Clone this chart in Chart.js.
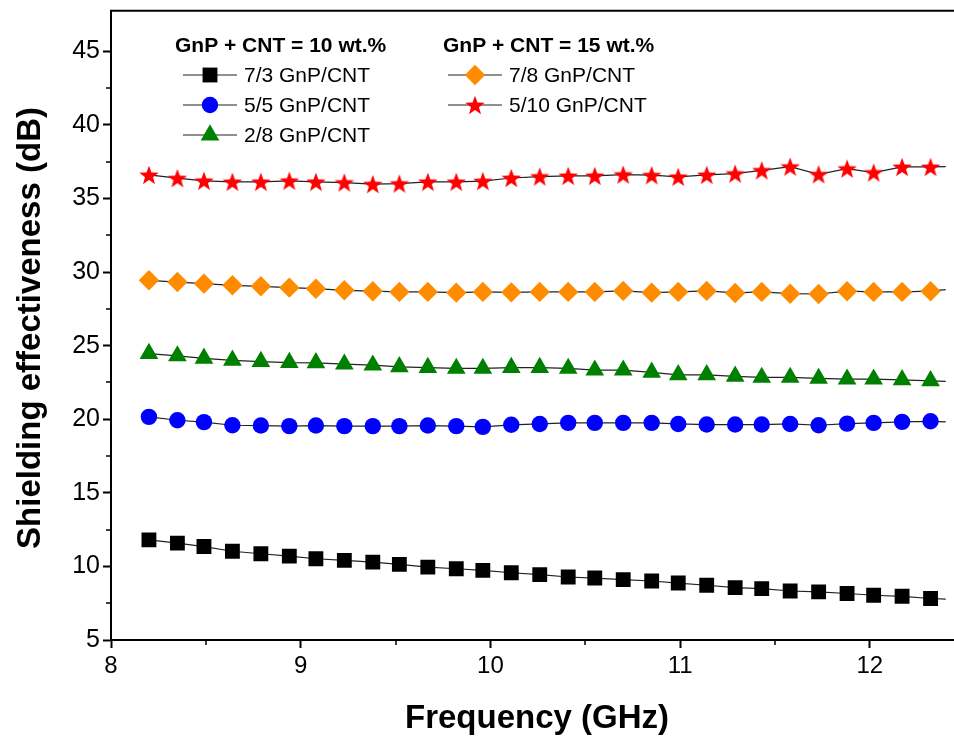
<!DOCTYPE html>
<html><head><meta charset="utf-8">
<script src="https://cdn.jsdelivr.net/npm/chart.js@4.4.1/dist/chart.umd.min.js"></script>
<style>
html,body{margin:0;padding:0;background:#fff;overflow:hidden;width:954px;height:742px}
#wrap{position:relative;width:1000px;height:742px}
</style>
</head><body><div id="wrap"><canvas id="c" width="1000" height="742"></canvas></div>
<script>
// ---- data ----
const frequency = [8.20, 8.35, 8.49, 8.64, 8.79, 8.94, 9.08, 9.23, 9.38, 9.52, 9.67, 9.82, 9.96, 10.11, 10.26,
  10.41, 10.55, 10.70, 10.85, 10.99, 11.14, 11.29, 11.43, 11.58, 11.73, 11.88, 12.02, 12.17, 12.32, 12.40];
const markerCount = 29; // last frequency point is the end of the trace, no marker

const se73 = [11.80, 11.58, 11.35, 11.03, 10.86, 10.70, 10.52, 10.41, 10.29, 10.14, 9.95, 9.84, 9.73, 9.57, 9.44,
  9.28, 9.21, 9.10, 9.01, 8.87, 8.72, 8.56, 8.49, 8.33, 8.27, 8.16, 8.04, 7.97, 7.82, 7.78];
const se55 = [20.16, 19.93, 19.80, 19.59, 19.57, 19.53, 19.57, 19.53, 19.53, 19.53, 19.57, 19.53, 19.48, 19.62, 19.68,
  19.75, 19.75, 19.75, 19.75, 19.68, 19.64, 19.64, 19.64, 19.68, 19.59, 19.70, 19.75, 19.82, 19.86, 19.82];
const se28 = [24.46, 24.30, 24.14, 24.00, 23.92, 23.85, 23.83, 23.74, 23.67, 23.56, 23.51, 23.45, 23.45, 23.51, 23.51,
  23.45, 23.33, 23.33, 23.18, 23.02, 23.02, 22.91, 22.84, 22.84, 22.77, 22.72, 22.72, 22.68, 22.61, 22.57];
const se78 = [29.44, 29.32, 29.21, 29.10, 29.03, 28.94, 28.87, 28.76, 28.70, 28.65, 28.65, 28.60, 28.65, 28.62, 28.65,
  28.65, 28.65, 28.72, 28.60, 28.65, 28.72, 28.58, 28.65, 28.53, 28.51, 28.70, 28.65, 28.65, 28.70, 28.80];
const se510 = [36.60, 36.38, 36.20, 36.13, 36.13, 36.20, 36.13, 36.08, 35.97, 36.01, 36.13, 36.13, 36.18, 36.39, 36.49,
  36.53, 36.53, 36.62, 36.58, 36.47, 36.60, 36.69, 36.91, 37.16, 36.64, 37.03, 36.76, 37.14, 37.14, 37.16];

const seriesNames = ['7/3 GnP/CNT', '5/5 GnP/CNT', '2/8 GnP/CNT', '7/8 GnP/CNT', '5/10 GnP/CNT'];
const legendHeaders = ['GnP + CNT = 10 wt.%', 'GnP + CNT = 15 wt.%'];
const xTickValues = [8, 9, 10, 11, 12];
const xTickLabels = ['8', '9', '10', '11', '12'];
const xMinorTicks = [8.5, 9.5, 10.5, 11.5];
const yTickValues = [5, 10, 15, 20, 25, 30, 35, 40, 45];
const yTickLabels = ['5', '10', '15', '20', '25', '30', '35', '40', '45'];
const yMinorTicks = [7.5, 12.5, 17.5, 22.5, 27.5, 32.5, 37.5, 42.5];
const xTitle = 'Frequency (GHz)';
const yTitle = 'Shielding effectiveness (dB)';

// ---- styles ----
const FONT = "'Liberation Sans', Arial, Helvetica, sans-serif";
function makeStar(size, outerR, innerR, color) {
  const c = document.createElement('canvas');
  c.width = size; c.height = size;
  const g = c.getContext('2d');
  g.fillStyle = color;
  g.beginPath();
  for (let i = 0; i < 10; i++) {
    const r = i % 2 === 0 ? outerR : innerR;
    const a = -Math.PI / 2 + i * Math.PI / 5;
    const px = size / 2 + r * Math.cos(a), py = size / 2 + r * Math.sin(a) + 0.9;
    if (i === 0) g.moveTo(px, py); else g.lineTo(px, py);
  }
  g.closePath(); g.fill();
  return c;
}
const starImg = makeStar(24, 10.2, 4.2, '#ff0000');

const styles = [
  {style: 'rect', r: 10.5, color: '#000000'},
  {style: 'circle', r: 8.2, color: '#0000ff'},
  {style: 'triangle', r: 10.8, color: '#008000'},
  {style: 'rectRot', r: 10.2, color: '#ff8c00'},
  {style: starImg, r: 10, color: '#ff0000'}
];
const seriesValues = [se73, se55, se28, se78, se510];

const datasets = seriesValues.map((vals, k) => ({
  label: seriesNames[k],
  data: frequency.map((f, i) => ({x: f, y: vals[i]})),
  borderColor: '#222222',
  borderWidth: 1.2,
  tension: 0,
  pointStyle: styles[k].style,
  pointRadius: (ctx) => ctx.dataIndex < markerCount ? styles[k].r : 0,
  pointHoverRadius: 0,
  pointBackgroundColor: styles[k].color,
  pointBorderColor: styles[k].color,
  pointBorderWidth: 0
}));

const extras = {
  id: 'extras',
  afterDraw(chart) {
    const ctx = chart.ctx, a = chart.chartArea;
    const xs = chart.scales.x, ys = chart.scales.y;
    ctx.save();
    // keep the strip right of the traces clean
    ctx.fillStyle = '#fff';
    ctx.fillRect(949, a.top + 2, 60, a.bottom - a.top - 4);
    // top frame line
    ctx.strokeStyle = '#000'; ctx.lineWidth = 2;
    ctx.beginPath(); ctx.moveTo(a.left - 1, a.top); ctx.lineTo(a.right, a.top); ctx.stroke();
    // minor ticks
    ctx.lineWidth = 1.5;
    xMinorTicks.forEach(v => {
      const px = Math.round(xs.getPixelForValue(v));
      ctx.beginPath(); ctx.moveTo(px, a.bottom); ctx.lineTo(px, a.bottom + 5); ctx.stroke();
    });
    yMinorTicks.forEach(v => {
      const py = Math.round(ys.getPixelForValue(v));
      ctx.beginPath(); ctx.moveTo(a.left, py); ctx.lineTo(a.left - 5, py); ctx.stroke();
    });
    // axis titles
    ctx.fillStyle = '#000';
    ctx.font = `bold 33px ${FONT}`;
    ctx.textAlign = 'center'; ctx.textBaseline = 'middle';
    ctx.fillText(xTitle, 537, 719);
    ctx.save();
    ctx.translate(31, 328); ctx.rotate(-Math.PI / 2);
    ctx.fillText(yTitle, 0, 0);
    ctx.restore();
    // legend
    ctx.textAlign = 'left'; ctx.textBaseline = 'middle';
    ctx.font = `bold 21px ${FONT}`;
    ctx.fillText(legendHeaders[0], 175, 46);
    ctx.fillText(legendHeaders[1], 443, 46);
    const rows = [
      {k: 0, lx: 183, y: 75}, {k: 1, lx: 183, y: 105}, {k: 2, lx: 183, y: 135},
      {k: 3, lx: 448, y: 75}, {k: 4, lx: 448, y: 105}
    ];
    ctx.font = `21px ${FONT}`;
    rows.forEach(r => {
      const len = 54;
      ctx.strokeStyle = '#222'; ctx.lineWidth = 1.2;
      ctx.beginPath(); ctx.moveTo(r.lx, r.y); ctx.lineTo(r.lx + len, r.y); ctx.stroke();
      const st = styles[r.k];
      ctx.fillStyle = st.color; ctx.strokeStyle = st.color;
      Chart.helpers.drawPoint(ctx, {pointStyle: st.style, radius: st.r, rotation: 0, borderWidth: 0}, r.lx + len / 2, r.y);
      ctx.fillStyle = '#000';
      ctx.fillText(seriesNames[r.k], r.lx + len + 7, r.y + 1);
    });
    ctx.restore();
  }
};

new Chart(document.getElementById('c'), {
  type: 'line',
  data: {datasets},
  plugins: [extras],
  options: {
    responsive: false,
    animation: false,
    devicePixelRatio: 1,
    layout: {padding: {left: 0, right: 15, top: 7, bottom: 0}},
    plugins: {legend: {display: false}, tooltip: {enabled: false}},
    scales: {
      x: {
        type: 'linear', min: 8, max: 12.607,
        afterBuildTicks: (s) => { s.ticks = xTickValues.map(v => ({value: v})); },
        afterFit: (s) => { s.height = 102; s.paddingLeft = 0; s.paddingRight = 0; s.paddingTop = 0; s.paddingBottom = 0; },
        ticks: {
          callback: (v) => { const i = xTickValues.indexOf(v); return i >= 0 ? xTickLabels[i] : ''; },
          font: {family: FONT, size: 24}, color: '#000', padding: 4, maxRotation: 0, autoSkip: false
        },
        grid: {drawOnChartArea: false, drawTicks: true, tickLength: 8, tickColor: '#000', tickWidth: 2, color: '#000'},
        border: {display: true, color: '#000', width: 2}
      },
      y: {
        type: 'linear', min: 5, max: 47.75,
        afterBuildTicks: (s) => { s.ticks = yTickValues.map(v => ({value: v})); },
        afterFit: (s) => { s.width = 111; s.paddingLeft = 0; s.paddingRight = 0; s.paddingTop = 0; s.paddingBottom = 0; },
        ticks: {
          callback: (v) => { const i = yTickValues.indexOf(v); return i >= 0 ? yTickLabels[i] : ''; },
          font: {family: FONT, size: 25}, color: '#000', padding: 3, autoSkip: false
        },
        grid: {drawOnChartArea: false, drawTicks: true, tickLength: 8, tickColor: '#000', tickWidth: 2, color: '#000'},
        border: {display: true, color: '#000', width: 2}
      }
    }
  }
});
</script>
</body></html>
